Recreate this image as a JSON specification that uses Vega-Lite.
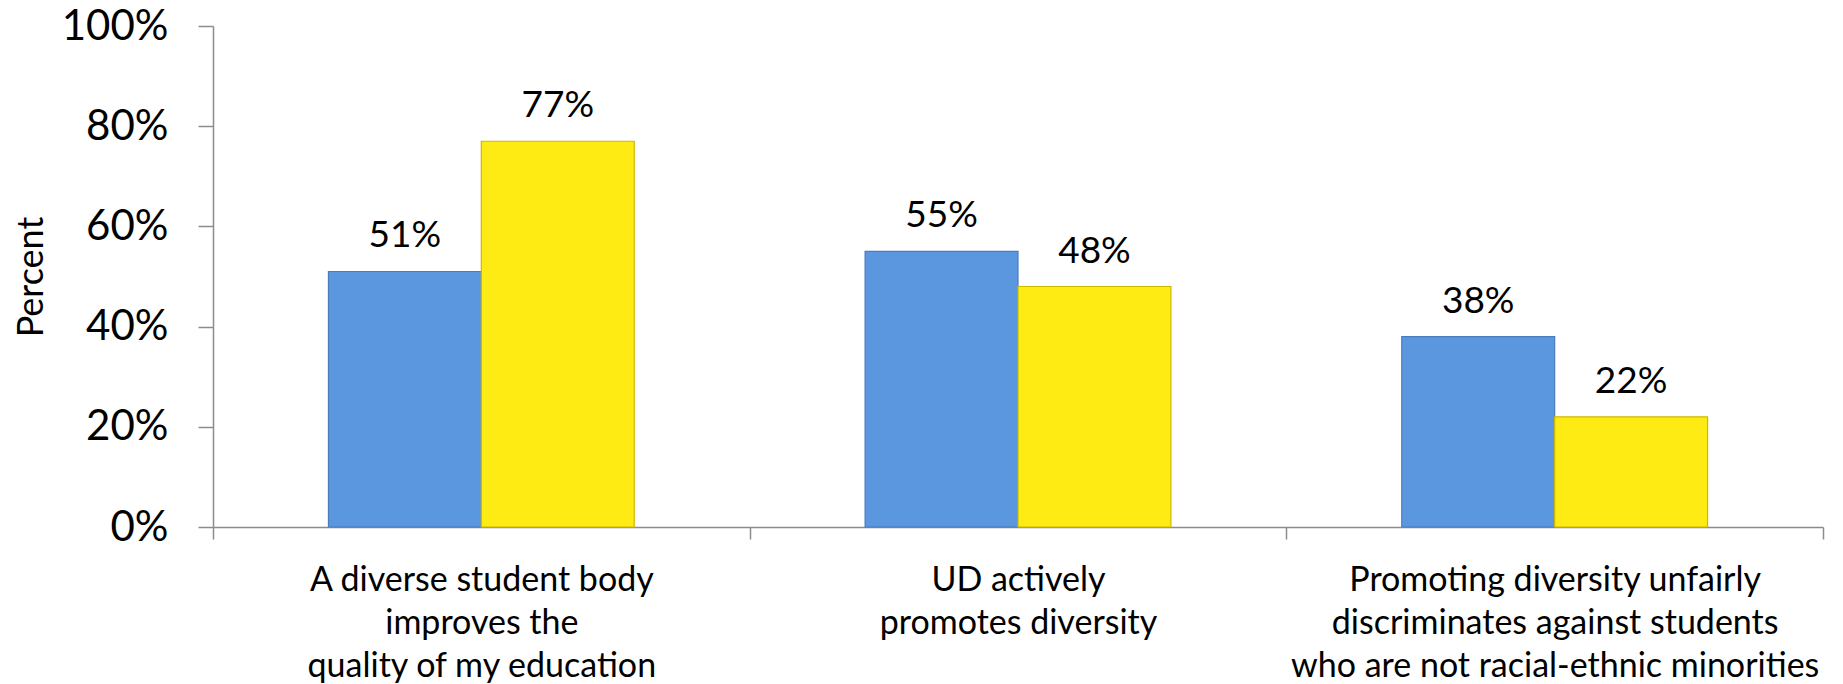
{
  "$schema": "https://vega.github.io/schema/vega-lite/v6.json",
  "width": 1610,
  "height": 501,
  "autosize": "none",
  "padding": {"left": 213, "top": 26, "right": 20, "bottom": 157},
  "background": "white",
  "config": {"view": {"stroke": null}, "font": "Lato"},
  "data": {
    "values": [
      {"statement": "A diverse student body|improves the|quality of my education", "group": "Series 1", "value": 0.51},
      {"statement": "A diverse student body|improves the|quality of my education", "group": "Series 2", "value": 0.77},
      {"statement": "UD actively|promotes diversity", "group": "Series 1", "value": 0.55},
      {"statement": "UD actively|promotes diversity", "group": "Series 2", "value": 0.48},
      {"statement": "Promoting diversity unfairly|discriminates against students|who are not racial-ethnic minorities", "group": "Series 1", "value": 0.38},
      {"statement": "Promoting diversity unfairly|discriminates against students|who are not racial-ethnic minorities", "group": "Series 2", "value": 0.22}
    ]
  },
  "encoding": {
    "x": {
      "field": "statement",
      "type": "nominal",
      "sort": null,
      "scale": {"paddingInner": 0, "paddingOuter": 0},
      "axis": {
        "title": null,
        "labelAngle": 0,
        "labelExpr": "split(datum.label, '|')",
        "labelFontSize": 34,
        "labelLineHeight": 43,
        "labelLimit": 0,
        "labelColor": "black",
        "labelPadding": 24,
        "labelBaseline": "top",
        "tickBand": "extent",
        "tickSize": 12,
        "tickWidth": 1.5,
        "tickColor": "#8c8c8c",
        "domainColor": "#8c8c8c",
        "domainWidth": 1.5,
        "grid": false
      }
    },
    "xOffset": {
      "field": "group",
      "type": "nominal",
      "sort": null,
      "scale": {"paddingInner": 0, "paddingOuter": 0.755}
    },
    "y": {
      "field": "value",
      "type": "quantitative",
      "scale": {"domain": [0, 1]},
      "axis": {
        "title": "Percent",
        "titleFontSize": 36,
        "titleFontWeight": "normal",
        "titleColor": "black",
        "titlePadding": 11,
        "values": [0, 0.2, 0.4, 0.6, 0.8, 1],
        "format": ".0%",
        "labelFontSize": 42,
        "labelColor": "black",
        "labelPadding": 30,
        "tickSize": 15,
        "tickWidth": 1.5,
        "tickColor": "#8c8c8c",
        "domainColor": "#8c8c8c",
        "domainWidth": 1.5,
        "grid": false
      }
    }
  },
  "layer": [
    {
      "mark": {"type": "bar", "strokeWidth": 1.2},
      "encoding": {
        "color": {"field": "group", "type": "nominal", "scale": {"range": ["#5B97DF", "#FFEB14"]}, "legend": null},
        "stroke": {"field": "group", "type": "nominal", "scale": {"range": ["#4A7DBE", "#CDB800"]}, "legend": null}
      }
    },
    {
      "mark": {"type": "text", "baseline": "alphabetic", "dy": -24, "fontSize": 37, "color": "black"},
      "encoding": {"text": {"field": "value", "type": "quantitative", "format": ".0%"}}
    }
  ]
}
